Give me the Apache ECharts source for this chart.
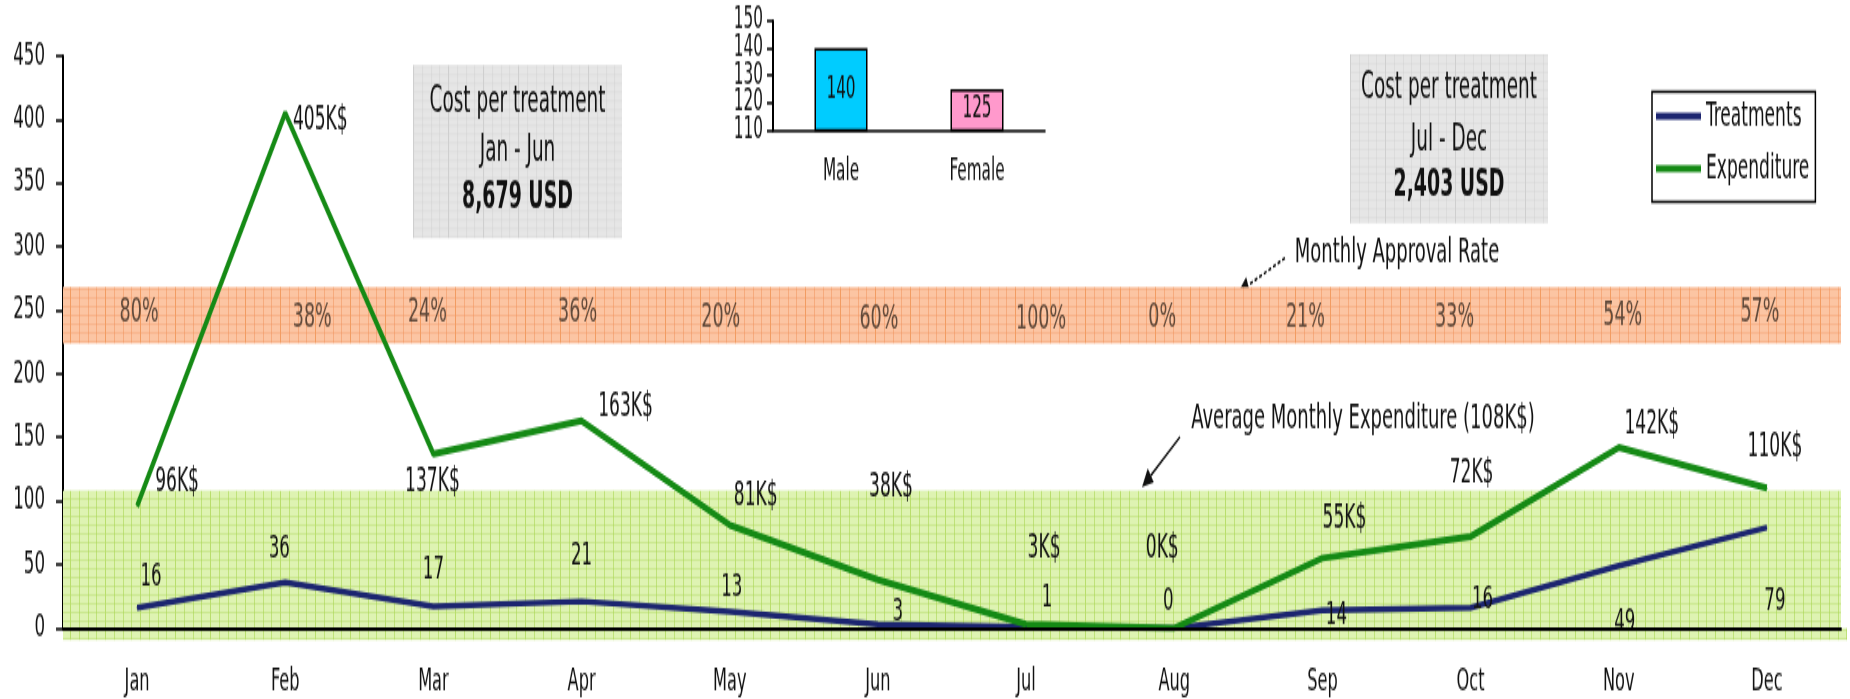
<!DOCTYPE html>
<html>
<head>
<meta charset="utf-8">
<title>Treatments and Expenditure</title>
<script src="https://cdn.jsdelivr.net/npm/echarts@6/dist/echarts.min.js"></script>
<style>
  html, body { margin: 0; padding: 0; background: #fff; }
  #wrap { width: 1850px; height: 699px; overflow: hidden; position: relative; }
  /* the source picture is stretched vertically, so the chart is drawn flat and stretched */
  #chart { width: 1850px; height: 400px; transform: scaleY(1.7475); transform-origin: 0 0; }
</style>
</head>
<body>
<div id="wrap"><div id="chart"></div></div>
<script>
const months = ['Jan', 'Feb', 'Mar', 'Apr', 'May', 'Jun', 'Jul', 'Aug', 'Sep', 'Oct', 'Nov', 'Dec']
const treatments = [16, 36, 17, 21, 13, 3, 1, 0, 14, 16, 49, 79]
const expenditure = [96, 405, 137, 163, 81, 38, 3, 0, 55, 72, 142, 110]
const approvalRate = [80, 38, 24, 36, 20, 60, 100, 0, 21, 33, 54, 57]
const avgExpenditure = 108
const genderCats = ['Male', 'Female']
const genderValues = [140, 125]
const yMin = 0, yMax = 450, yStep = 50
const genderMin = 110, genderMax = 150, genderStep = 10

const FONT = '"DejaVu Sans Condensed", "DejaVu Sans", sans-serif'

// label nudges (px) so the texts sit where the original put them
const expOffsets = [[40, -13], [35, 4], [-1, 16], [44, -8], [26, -16], [13, -53], [18, -43], [-12, -45], [22, -22], [1, -36], [33, -13], [8, -23]]
const trtOffsets = [[14, -18], [-6, -19], [0, -21], [0, -26], [2, -14], [20, -7], [21, -16], [-6, -15], [14, 3], [12, -5], [6, 32], [8, 42]]
const rateOffsets = [[2, -2], [27, 1], [-6, -2], [-4, -2], [-9, 1], [1, 2], [15, 2], [-12, 1], [-17, 1], [-16, 1], [4, 0], [-7, -2]]
const rateRowY = 245
const greenBandFloor = -9.4 // the green band hangs a little under the x axis

function gridPattern(base, minor, major, w, h) {
  const c = document.createElement('canvas')
  c.width = w
  c.height = h
  const g = c.getContext('2d')
  g.fillStyle = base
  g.fillRect(0, 0, w, h)
  g.fillStyle = minor
  for (let x = w / 4; x < w; x += w / 4) g.fillRect(Math.round(x), 0, 1, h)
  for (let y = 0; y < h; y += 5) g.fillRect(0, y, w, 0.6)
  g.fillStyle = major
  g.fillRect(0, 0, 1, h)
  return { image: c, repeat: 'repeat' }
}

const greenFill = gridPattern('#def3b2', 'rgba(170,215,85,0.6)', '#b9de6c', 35, 20)
const orangeFill = gridPattern('#fcc5a3', 'rgba(240,145,90,0.5)', '#f29c62', 35, 20)
const boxFill = gridPattern('#e6e6e6', 'rgba(200,200,200,0.35)', '#cfcfcf', 35, 34)

const costBoxes = [
  { title: 'Cost per treatment', period: 'Jan - Jun', value: '8,679 USD', x: 413, y: 37.2, w: 209, h: 99, rows: [21, 49.6, 76.3] },
  { title: 'Cost per treatment', period: 'Jul - Dec', value: '2,403 USD', x: 1350, y: 31, w: 198, h: 96.7, rows: [20, 50, 76] },
]

function boxGraphic(b) {
  const txt = (t, y, bold) => ({
    type: 'text', x: b.w / 2, y: y,
    style: { text: t, align: 'center', verticalAlign: 'middle', fill: '#111',
      fontSize: bold ? 21 : 20.5, fontWeight: bold ? 'bold' : 'normal', fontFamily: FONT },
  })
  return {
    type: 'group', left: b.x, top: b.y,
    children: [
      { type: 'rect', shape: { x: 0, y: 0, width: b.w, height: b.h }, style: { fill: boxFill } },
      txt(b.title, b.rows[0], false),
      txt(b.period, b.rows[1], false),
      txt(b.value, b.rows[2], true),
    ],
  }
}

function arrow(x1, y1, x2, y2, dashed) {
  const dx = x2 - x1, dy = y2 - y1
  const len = Math.hypot(dx, dy)
  const ux = dx / len, uy = dy / len
  const hl = 11, hw = 5
  const bx = x2 - ux * hl, by = y2 - uy * hl
  return [
    { type: 'line', shape: { x1, y1, x2: bx, y2: by },
      style: { stroke: '#111', lineWidth: 1.5, lineDash: dashed ? [3, 2] : null } },
    { type: 'polygon', shape: { points: [[x2, y2], [bx - uy * hw, by + ux * hw], [bx + uy * hw, by - ux * hw]] },
      style: { fill: '#111' } },
  ]
}

const chart = echarts.init(document.getElementById('chart'), null, { renderer: 'canvas', devicePixelRatio: 1 })

const axisBlack = { color: '#000', width: 1.5 }

const graphics = [
  ...costBoxes.map(boxGraphic),
  { type: 'text', x: 1397, y: 144.8,
    style: { text: 'Monthly Approval Rate', align: 'center', verticalAlign: 'middle', fill: '#111', fontSize: 20, fontFamily: FONT } },
  ...arrow(1285, 147.6, 1238, 167.5, true),
  { type: 'text', x: 1363, y: 239.8,
    style: { text: 'Average Monthly Expenditure (108K$)', align: 'center', verticalAlign: 'middle', fill: '#111', fontSize: 20, fontFamily: FONT } },
  ...arrow(1180, 250, 1142, 278.7, false),
]

// the small gender axis packs its labels tightly; two stacked axes keep every label visible
const genderAxis = (even) => ({
  type: 'value', gridIndex: 1, position: 'left', offset: 0,
  min: genderMin, max: genderMax, interval: genderStep,
  axisLine: { show: even, lineStyle: { color: '#000', width: 2 } },
  axisTick: { show: even, length: 6, lineStyle: { color: '#000', width: 1.5 } },
  axisLabel: {
    color: '#111', fontSize: 17, margin: 10, fontFamily: FONT,
    showMinLabel: true, showMaxLabel: true,
    formatter: (v) => ((((v - genderMin) / genderStep) % 2 === 0) === even ? String(v) : ''),
  },
  splitLine: { show: false },
})

const option = {
  animation: false,
  backgroundColor: '#fff',
  textStyle: { fontFamily: FONT },
  grid: [
    { left: 63, right: 9, top: 31.9, bottom: 40.6 },
    { left: 773, right: 805, top: 12, bottom: 325.6 },
  ],
  xAxis: [
    {
      type: 'category', gridIndex: 0, data: months,
      axisLine: { lineStyle: { color: '#000', width: 1.8 } },
      axisTick: { length: 7, lineStyle: axisBlack },
      axisLabel: { color: '#111', fontSize: 18, margin: 22, fontFamily: FONT },
      z: 5,
    },
    {
      type: 'category', gridIndex: 1, data: genderCats,
      axisLine: { lineStyle: axisBlack },
      axisTick: { length: 6, lineStyle: axisBlack },
      axisLabel: { color: '#111', fontSize: 17, margin: 16, fontFamily: FONT },
    },
  ],
  yAxis: [
    {
      type: 'value', gridIndex: 0, min: yMin, max: yMax, interval: yStep,
      axisLine: { show: true, lineStyle: { color: '#000', width: 2 } },
      axisTick: { show: true, length: 7, lineStyle: { color: '#000', width: 1.5 } },
      axisLabel: { color: '#111', fontSize: 18.5, margin: 18, fontFamily: FONT, showMinLabel: true, showMaxLabel: true },
      splitLine: { show: false },
    },
    genderAxis(true),
    genderAxis(false),
  ],
  legend: {
    data: ['Treatments', 'Expenditure'],
    orient: 'vertical', left: 1652, top: 52.6,
    icon: 'rect', itemWidth: 45, itemHeight: 4, itemGap: 10,
    padding: [4, 6, 9, 4],
    borderColor: '#000', borderWidth: 1.5, backgroundColor: '#fff',
    textStyle: { color: '#111', fontSize: 19, lineHeight: 20, fontFamily: FONT },
  },
  graphic: graphics,
  series: [
    {
      name: 'Approval',
      type: 'scatter', xAxisIndex: 0, yAxisIndex: 0, z: 1, clip: false,
      symbolSize: 1, itemStyle: { color: 'rgba(0,0,0,0)' },
      data: months.map((m, i) => ({ value: [i, rateRowY], label: { offset: rateOffsets[i] } })),
      label: {
        show: true, position: 'inside', color: '#3a2c22', fontSize: 19.5, fontFamily: FONT,
        formatter: (p) => approvalRate[p.dataIndex] + '%',
      },
      markArea: {
        silent: true,
        data: [
          [{ yAxis: 224, itemStyle: { color: orangeFill } }, { yAxis: 268 }],
          [{ yAxis: 0, itemStyle: { color: greenFill } }, { yAxis: avgExpenditure }],
        ],
      },
    },
    {
      name: 'Treatments',
      type: 'line', xAxisIndex: 0, yAxisIndex: 0, z: 3,
      symbol: 'circle', symbolSize: 1,
      color: '#1c2570',
      lineStyle: { color: '#1c2570', width: 3.4 },
      data: treatments.map((v, i) => ({ value: v, label: { offset: trtOffsets[i] } })),
      label: { show: true, position: 'inside', color: '#111', fontSize: 18.5, fontFamily: FONT },
    },
    {
      name: 'Expenditure',
      type: 'line', xAxisIndex: 0, yAxisIndex: 0, z: 3,
      symbol: 'circle', symbolSize: 1,
      color: '#158a15',
      lineStyle: { color: '#158a15', width: 4 },
      data: expenditure.map((v, i) => ({ value: v, label: { offset: expOffsets[i] } })),
      label: {
        show: true, position: 'inside', color: '#111', fontSize: 19, fontFamily: FONT,
        formatter: (p) => p.value + 'K$',
      },
    },
    {
      name: 'Gender',
      type: 'bar', xAxisIndex: 1, yAxisIndex: 1,
      barWidth: 53,
      data: genderValues.map((v, i) => ({ value: v, itemStyle: { color: i === 0 ? '#00ccff' : '#ff99cc' } })),
      itemStyle: { borderColor: '#000', borderWidth: 1.5 },
      label: { show: true, position: 'inside', color: '#111', fontSize: 17, fontFamily: FONT },
    },
  ],
}

chart.setOption(option)

// strip of the green band below the axis, placed through the axis scale
const top0 = chart.convertToPixel({ gridIndex: 0 }, [0, 0])
const floor = chart.convertToPixel({ gridIndex: 0 }, [0, greenBandFloor])
const rect = chart.getModel().getComponent('grid', 0).coordinateSystem.getRect()
chart.setOption({
  graphic: graphics.concat([{
    type: 'rect', z: -1, silent: true,
    shape: { x: rect.x, y: top0[1], width: rect.width + 6, height: floor[1] - top0[1] },
    style: { fill: greenFill },
  }]),
})
</script>
</body>
</html>
